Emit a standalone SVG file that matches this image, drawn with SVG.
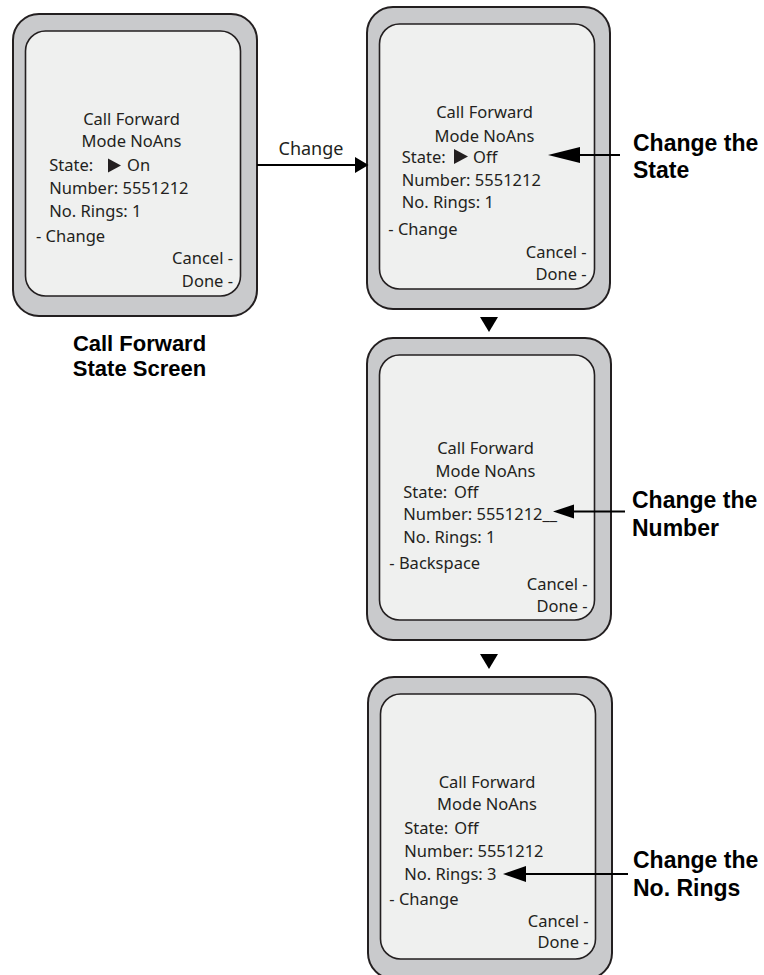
<svg xmlns="http://www.w3.org/2000/svg" width="764" height="975" viewBox="0 0 764 975">
<style>
.outer{fill:#c9cacc;stroke:#231f20;stroke-width:2}
.inner{fill:#eff0ef;stroke:#231f20;stroke-width:1.6}
.t{font-family:"Noto Sans","Open Sans","Liberation Sans",sans-serif;font-size:16.5px;fill:#231f20}
.c{text-anchor:middle}
.r{text-anchor:end}
.lbl{font-family:"Liberation Sans",Arial,sans-serif;font-size:23px;font-weight:bold;fill:#000}
.cap{font-size:22px}
.ln{stroke:#000;stroke-width:2;fill:none}
.hd{fill:#000}
.cur{fill:#231f20}
</style>
<rect width="764" height="975" fill="#fff"/>
<g id="screen1">
<rect class="outer" x="13" y="14" width="244" height="302" rx="26"/>
<rect class="inner" x="25.5" y="31" width="215" height="265" rx="20"/>
<text class="t c" x="131.5" y="125">Call Forward</text>
<text class="t c" x="131.5" y="146.7">Mode NoAns</text>
<text class="t" x="49.3" y="171">State:</text>
<polygon class="cur" points="108,158.5 121,165.5 108,172.5"/>
<text class="t" x="127" y="171">On</text>
<text class="t" x="49.3" y="194.3">Number: 5551212</text>
<text class="t" x="49.3" y="217.3">No. Rings: 1</text>
<text class="t" x="36" y="242.3">- Change</text>
<text class="t r" x="233" y="264">Cancel -</text>
<text class="t r" x="233" y="287.3">Done -</text>
</g>
<g id="screen2">
<rect class="outer" x="367" y="7" width="243" height="302" rx="26"/>
<rect class="inner" x="379.5" y="24" width="215" height="265" rx="20"/>
<text class="t c" x="484.5" y="118.3">Call Forward</text>
<text class="t c" x="484.5" y="141.7">Mode NoAns</text>
<text class="t" x="401.7" y="163.3">State:</text>
<polygon class="cur" points="454,149 468,156.5 454,164"/>
<text class="t" x="473" y="163.3">Off</text>
<text class="t" x="401.7" y="186">Number: 5551212</text>
<text class="t" x="401.7" y="208.3">No. Rings: 1</text>
<text class="t" x="388.3" y="235">- Change</text>
<text class="t r" x="586.7" y="257.7">Cancel -</text>
<text class="t r" x="586.7" y="280">Done -</text>
</g>
<g id="screen3">
<rect class="outer" x="367" y="338" width="244" height="302" rx="26"/>
<rect class="inner" x="379.5" y="355" width="215" height="265" rx="20"/>
<text class="t c" x="485.5" y="454">Call Forward</text>
<text class="t c" x="485.5" y="476.7">Mode NoAns</text>
<text class="t" x="403.3" y="498.3">State:</text>
<text class="t" x="454" y="498.3">Off</text>
<text class="t" x="403.3" y="520">Number: 5551212__</text>
<text class="t" x="403.3" y="543.3">No. Rings: 1</text>
<text class="t" x="389.3" y="569.3">- Backspace</text>
<text class="t r" x="587.7" y="590">Cancel -</text>
<text class="t r" x="587.7" y="611.7">Done -</text>
</g>
<g id="screen4">
<rect class="outer" x="368" y="677" width="244" height="302" rx="26"/>
<rect class="inner" x="380.5" y="694" width="215" height="265" rx="20"/>
<text class="t c" x="487" y="788.3">Call Forward</text>
<text class="t c" x="487" y="810">Mode NoAns</text>
<text class="t" x="404.3" y="834.3">State:</text>
<text class="t" x="454.3" y="834.3">Off</text>
<text class="t" x="404.3" y="856.7">Number: 5551212</text>
<text class="t" x="404.3" y="880">No. Rings: 3</text>
<text class="t" x="389.3" y="905">- Change</text>
<text class="t r" x="588.7" y="926.7">Cancel -</text>
<text class="t r" x="588.7" y="948.3">Done -</text>
</g>
<g id="label-screen">
<text class="lbl cap c" x="139.5" y="351">Call Forward</text>
<text class="lbl cap c" x="139.5" y="376">State Screen</text>
</g>
<g id="label-state">
<text class="lbl" x="633" y="151">Change the</text>
<text class="lbl" x="633" y="178">State</text>
</g>
<g id="label-number">
<text class="lbl" x="632" y="508">Change the</text>
<text class="lbl" x="632" y="536">Number</text>
</g>
<g id="label-rings">
<text class="lbl" x="633" y="868">Change the</text>
<text class="lbl" x="633" y="896">No. Rings</text>
</g>
<g id="connectors">
<line class="ln" x1="257" y1="165" x2="357" y2="165"/>
<polygon class="hd" points="368.5,165 355,157 355,173"/>
<text class="t" x="311" y="155" text-anchor="middle" style="font-size:18px">Change</text>
<polygon class="hd" points="480,317 498,317 489,332"/>
<polygon class="hd" points="480,654 498,654 489,669"/>
<line class="ln" x1="578" y1="155" x2="620" y2="155"/>
<polygon class="hd" points="548,155 580,147 580,163"/>
<line class="ln" x1="572" y1="511.5" x2="625" y2="511.5"/>
<polygon class="hd" points="553,511.5 574,504.5 574,518.5"/>
<line class="ln" x1="524" y1="874" x2="628" y2="874"/>
<polygon class="hd" points="503,874 526,866 526,882"/>
</g>
</svg>
